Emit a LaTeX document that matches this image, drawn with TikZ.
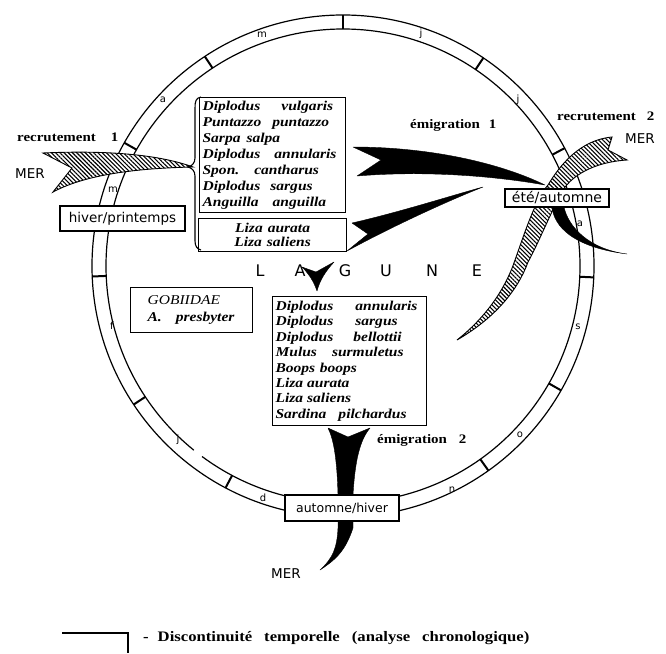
\documentclass[tikz,border=0pt]{standalone}
\usepackage{fontspec}
\setmainfont{Liberation Serif}
\newfontfamily\sansf{DejaVu Sans}
\newfontfamily\spf{Liberation Serif}[FakeStretch=1.15]
\usetikzlibrary{patterns.meta}
\begin{document}
\begin{tikzpicture}[x=1pt,y=-1pt,
  ringline/.style={line width=1.2pt},
  monthtick/.style={line width=2pt},
  mon/.style={font=\sansf\fontsize{10}{10}\selectfont, inner sep=0pt},
  season/.style={draw, fill=white, line width=1.2pt, inner sep=0pt},
  species/.style={draw, fill=white, line width=1.2pt, font=\spf\bfseries\itshape\fontsize{13.5}{16}\selectfont, align=left, inner ysep=0pt, inner xsep=3pt, anchor=north west},
  lbl/.style={font=\spf\bfseries\fontsize{13}{13}\selectfont, inner sep=0pt, anchor=base west},
  mer/.style={font=\sansf\fontsize{13.5}{13.5}\selectfont, inner sep=0pt, anchor=base west},
  lag/.style={font=\sansf\fontsize{16}{16}\selectfont, inner sep=0pt, anchor=base},
  hatched/.style={draw, line width=0.9pt, fill=white, postaction={pattern={Lines[angle=-45,distance=3pt,line width=1.1pt]}}},
  blk/.style={fill=black, draw=black, line width=0.4pt, line join=round},
]
\useasboundingbox (0,0) rectangle (666,653);
\coordinate (C) at (343,266);
% ring
\draw[ringline] (C) circle[radius=251];
\draw[ringline,shift={(C)}] (129:237) arc[start angle=129, end angle=486.5, radius=237];
\foreach \a in {-90,-56,-28,2.6,29.7,54.6,117.9,146.5,177.6,209.4,236.6}
  \draw[monthtick,shift={(C)}] (\a:237) -- (\a:251);
% month letters
\node[mon] (lm1) at (262,35) {m};
\node[mon] (lj1) at (421,34) {j};
\node[mon] (lj2) at (518,100) {j};
\node[mon] (la1) at (580,224) {a};
\node[mon] (ls) at (578,327) {s};
\node[mon] (lo) at (520,435) {o};
\node[mon] (ln) at (452,490) {n};
\node[mon] (ld) at (263,498) {d};
\node[mon] (lj3) at (178,440) {j};
\node[mon] (lf) at (112,326) {f};
\node[mon] (lm2) at (113,190) {m};
\node[mon] (la2) at (163,100) {a};
% recrutement 1 (hatched)
\draw[hatched] (43,153) .. controls (110,150) and (160,155) .. (193,167)
  .. controls (150,168) and (90,172) .. (53,192) -- (72,168) -- cycle;
% recrutement 2 (hatched)
\draw[hatched] (457,340) .. controls (485,318) and (505,290) .. (515,260)
  .. controls (525,232) and (535,200) .. (548,185)
  .. controls (560,165) and (580,140) .. (612,137)
  -- (608,150) -- (627,160)
  .. controls (595,162) and (570,175) .. (560,195)
  .. controls (550,215) and (535,250) .. (528,262)
  .. controls (518,290) and (495,318) .. (457,340) -- cycle;
% emigration 1
\fill[blk] (353,147) .. controls (430,147) and (500,163) .. (545,185)
  .. controls (500,177) and (430,170) .. (357,176) -- (381,160) -- cycle;
\fill[blk] (552,207) .. controls (554,226) and (572,247) .. (627,254)
  .. controls (588,249) and (568,226) .. (564,207) -- cycle;
% Liza arrow
\fill[blk] (352,223) .. controls (400,212) and (450,196) .. (483,187)
  .. controls (450,200) and (395,225) .. (347,251) -- (368,234) -- cycle;
% lagune arrow
\fill[blk] (302,267) -- (316,272) -- (334,262) .. controls (325,272) and (320,280) .. (317,291)
  .. controls (314,282) and (309,274) .. (302,267) -- cycle;
% emigration 2
\fill[blk] (328,428) .. controls (334,440) and (337,460) .. (338,495) -- (338,528)
  .. controls (337,548) and (333,558) .. (320,570)
  .. controls (335,560) and (345,552) .. (353,528) -- (353,495)
  .. controls (355,460) and (360,440) .. (370,428) -- (348,437) -- cycle;
% season boxes
\node[season, minimum width=125pt, minimum height=25pt, font=\sansf\fontsize{13.5}{13.5}\selectfont] (hp) at (122.5,218.5) {hiver/printemps};
\node[season, minimum width=104pt, minimum height=18pt, font=\sansf\fontsize{14}{14}\selectfont] (ea) at (557,198) {été/automne};
\node[season, minimum width=114pt, minimum height=26pt, font=\sansf\fontsize{12.5}{12.5}\selectfont] (ah) at (342,508) {automne/hiver};
% species boxes
\node[species, text width=140pt, minimum height=115pt] (sp1) at (199,97)
  {Diplodus\hspace{21pt}vulgaris\\Puntazzo\hspace{11pt}puntazzo\\Sarpa\hspace{6pt}salpa\\Diplodus\hspace{14pt}annularis\\Spon.\hspace{15pt}cantharus\\Diplodus\hspace{10pt}sargus\\Anguilla\hspace{14pt}anguilla};
\node[species, align=center, text width=142pt, minimum height=33pt, font=\spf\bfseries\itshape\fontsize{13.5}{14}\selectfont] (sp2) at (198,218)
  {Liza\hspace{5pt}aurata\\Liza\hspace{5pt}saliens};
\node[species, text width=148pt, minimum height=129pt, font=\spf\bfseries\itshape\fontsize{13.5}{15.4}\selectfont] (sp3) at (272,296)
  {Diplodus\hspace{22pt}annularis\\Diplodus\hspace{22pt}sargus\\Diplodus\hspace{20pt}bellottii\\Mulus\hspace{15pt}surmuletus\\Boops boops\\Liza\hspace{4pt}aurata\\Liza\hspace{4pt}saliens\\Sardina\hspace{12pt}pilchardus};
\node[species, text width=88pt, inner xsep=17pt, minimum height=45pt, font=\spf\itshape\fontsize{13.5}{17}\selectfont] (gob) at (130,287)
  {GOBIIDAE\\\textbf{A.\hspace{14pt}presbyter}};
% brace
\draw[line width=1.1pt] (201,97) .. controls (196,98) and (195,101) .. (195,108) -- (195,158)
  .. controls (195,163) and (192,166) .. (188,167) .. controls (192,168) and (195,171) .. (195,176)
  -- (195,241) .. controls (195,246) and (197,249) .. (201,250);
% labels
\node[lbl] (r1) at (17,141) {recrutement\hspace{15pt}1};
\node[lbl] (e1) at (410,128) {émigration\hspace{9pt}1};
\node[lbl] (r2) at (557,120) {recrutement\hspace{11pt}2};
\node[lbl] (e2) at (377,443) {émigration\hspace{12pt}2};
\node[mer] (mer1) at (15,178) {MER};
\node[mer] (mer2) at (625,143) {MER};
\node[mer] (mer3) at (271,578) {MER};
% LAGUNE
\node[lag] (gL) at (260,276) {L};
\node[lag] (gA) at (300,276) {A};
\node[lag] (gG) at (345,276) {G};
\node[lag] (gU) at (386,276) {U};
\node[lag] (gN) at (432,276) {N};
\node[lag] (gE) at (477,276) {E};
% legend
\draw[line width=1.2pt] (62,633) -- (128,633) -- (128,653);
\node[lbl, font=\spf\bfseries\fontsize{14.5}{14.5}\selectfont] (leg) at (143,641)
  {-\hspace{9pt}Discontinuité\hspace{12pt}temporelle\hspace{12pt}(analyse\hspace{12pt}chronologique)};
\end{tikzpicture}
\end{document}
